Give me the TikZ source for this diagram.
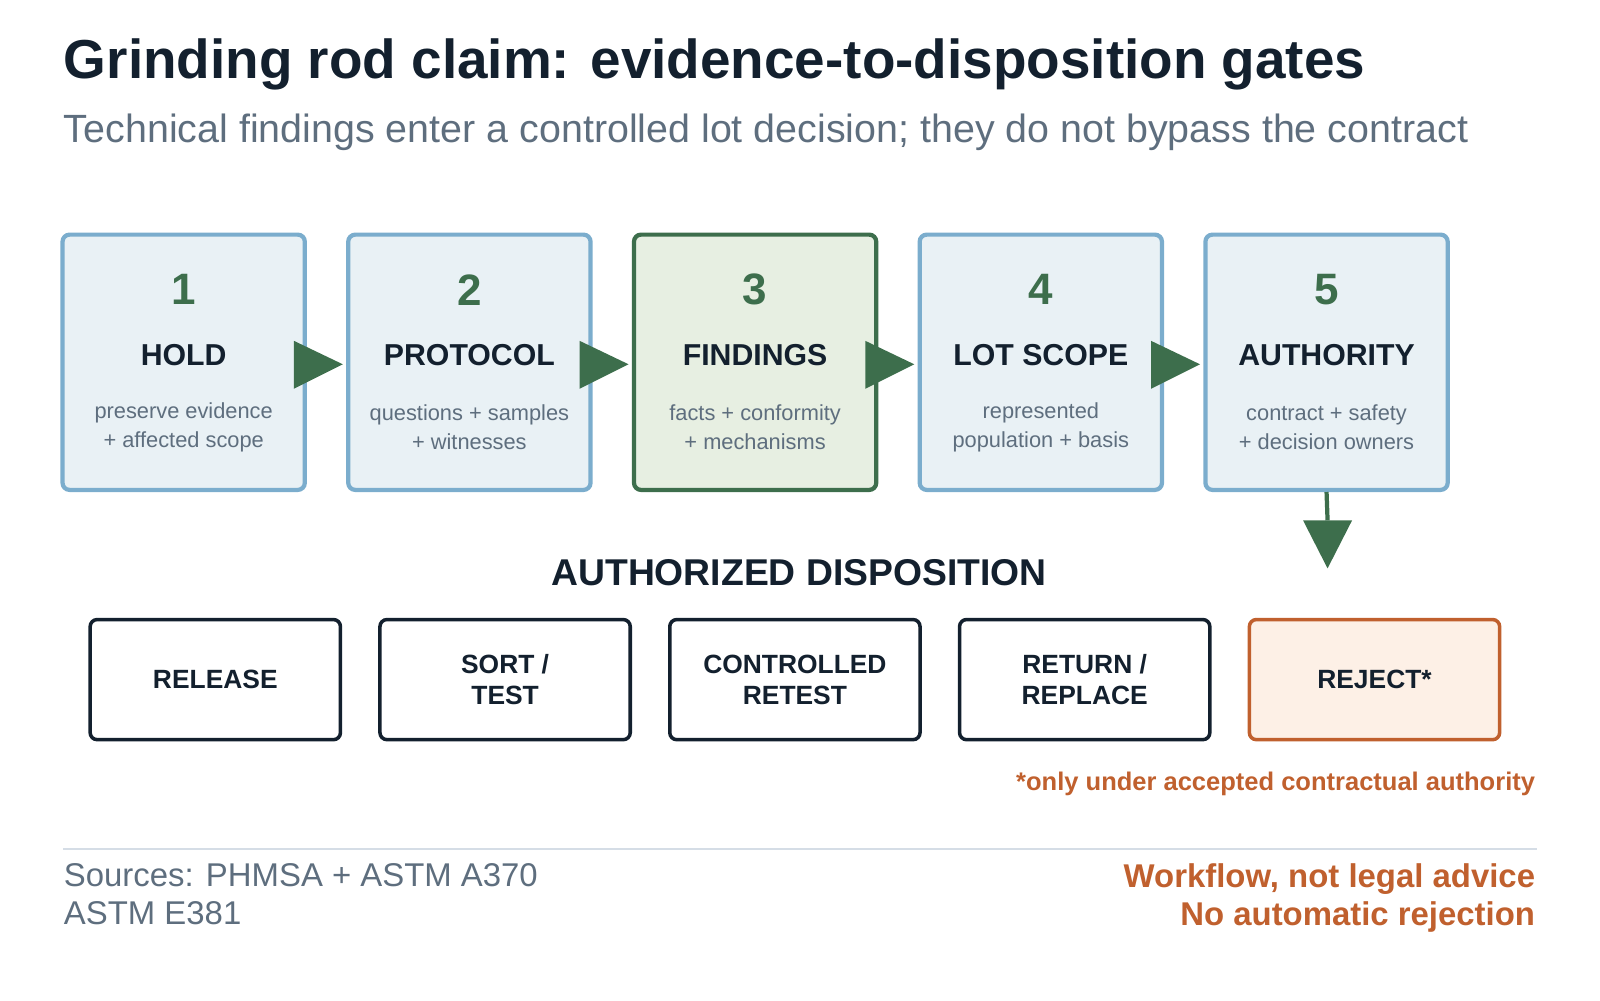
\documentclass[tikz,border=0pt]{standalone}
\usepackage{fontspec}
\setmainfont{Liberation Sans}
\begin{document}
\definecolor{ink}{HTML}{13202E}
\definecolor{gray1}{HTML}{5E6E7E}
\definecolor{bfill}{HTML}{E9F1F5}
\definecolor{bline}{HTML}{7BADCD}
\definecolor{gfill}{HTML}{E7EFE2}
\definecolor{green1}{HTML}{3D6E4C}
\definecolor{orng}{HTML}{C0602E}
\definecolor{ofill}{HTML}{FDF0E6}
\definecolor{rule}{HTML}{D5DDE6}
\begin{tikzpicture}[x=0.0102cm,y=-0.0102cm,
 gate/.style={draw=bline,fill=bfill,line width=1.2pt,rounded corners=2pt,minimum width=2.42cm,minimum height=2.55cm,inner sep=0pt},
 disp/.style={draw=ink,fill=white,line width=1pt,rounded corners=2pt,minimum width=2.5cm,minimum height=1.2cm,align=center,font=\fontsize{7.5}{8.8}\selectfont\bfseries,text=ink},
 num/.style={font=\fontsize{12.5}{14}\selectfont\bfseries,text=green1},
 lab/.style={font=\fontsize{8.6}{10}\selectfont\bfseries,text=ink},
 sub/.style={font=\fontsize{6.2}{8.3}\selectfont,text=gray1,align=center},
 tri/.style={fill=green1,draw=none}]
\useasboundingbox (0,0) rectangle (1568,980);
\node[anchor=west,inner sep=0pt,font=\fontsize{15.6}{17}\selectfont\bfseries,text=ink] (title) at (62,63) {Grinding rod claim: evidence-to-disposition gates};
\node[anchor=west,inner sep=0pt,font=\fontsize{11.2}{13}\selectfont,text=gray1] (subt) at (62,130) {Technical findings enter a controlled lot decision; they do not bypass the contract};
\foreach \i/\x/\l/\a/\b in {1/180/HOLD/preserve evidence/+ affected scope,2/460/PROTOCOL/questions + samples/+ witnesses,3/740/FINDINGS/facts + conformity/+ mechanisms,4/1020/LOT SCOPE/represented/population + basis,5/1300/AUTHORITY/contract + safety/+ decision owners}{
 \ifnum\i=3
  \node[gate,draw=green1,fill=gfill] (s\i) at (\x,355) {};
 \else
  \node[gate] (s\i) at (\x,355) {};
 \fi
 \node[num] (n\i) at (\x,284) {\i};
 \node[lab] (l\i) at (\x,348) {\l};
 \node[sub] (d\i) at (\x,419) {\a\\\b};
}
\foreach \i/\x in {1/288,2/568,3/848,4/1128}{
 \fill[tri] (\x,334) -- (\x+48,357) -- (\x,381) -- cycle;
}
\coordinate (dt) at (1301,510);
\draw[green1,line width=1.2pt] (s5.south) -- (dt);
\fill[tri] (1277,510) -- (1325,510) -- (1301,557) -- cycle;
\node[font=\fontsize{10.6}{12}\selectfont\bfseries,text=ink] (dh) at (783,561) {AUTHORIZED DISPOSITION};
\node[disp] (r1) at (211,666) {RELEASE};
\node[disp] (r2) at (495,666) {SORT /\\TEST};
\node[disp] (r3) at (779,666) {CONTROLLED\\RETEST};
\node[disp] (r4) at (1063,666) {RETURN /\\REPLACE};
\node[disp,draw=orng,fill=ofill] (r5) at (1347,666) {REJECT*};
\node[anchor=east,inner sep=0pt,font=\fontsize{7.25}{8}\selectfont\bfseries,text=orng] (fn) at (1505,768) {*only under accepted contractual authority};
\coordinate (la) at (62,832); \coordinate (lb) at (1506,832);
\draw[rule,line width=0.7pt] (la) -- (lb);
\node[anchor=north west,align=left,inner sep=0pt,font=\fontsize{9.35}{10.6}\selectfont,text=gray1] (src) at (62,846) {Sources: PHMSA + ASTM A370\\ASTM E381};
\node[anchor=north east,align=right,inner sep=0pt,font=\fontsize{9.35}{10.6}\selectfont\bfseries,text=orng] (wf) at (1505,846) {Workflow, not legal advice\\No automatic rejection};
\end{tikzpicture}
\end{document}
